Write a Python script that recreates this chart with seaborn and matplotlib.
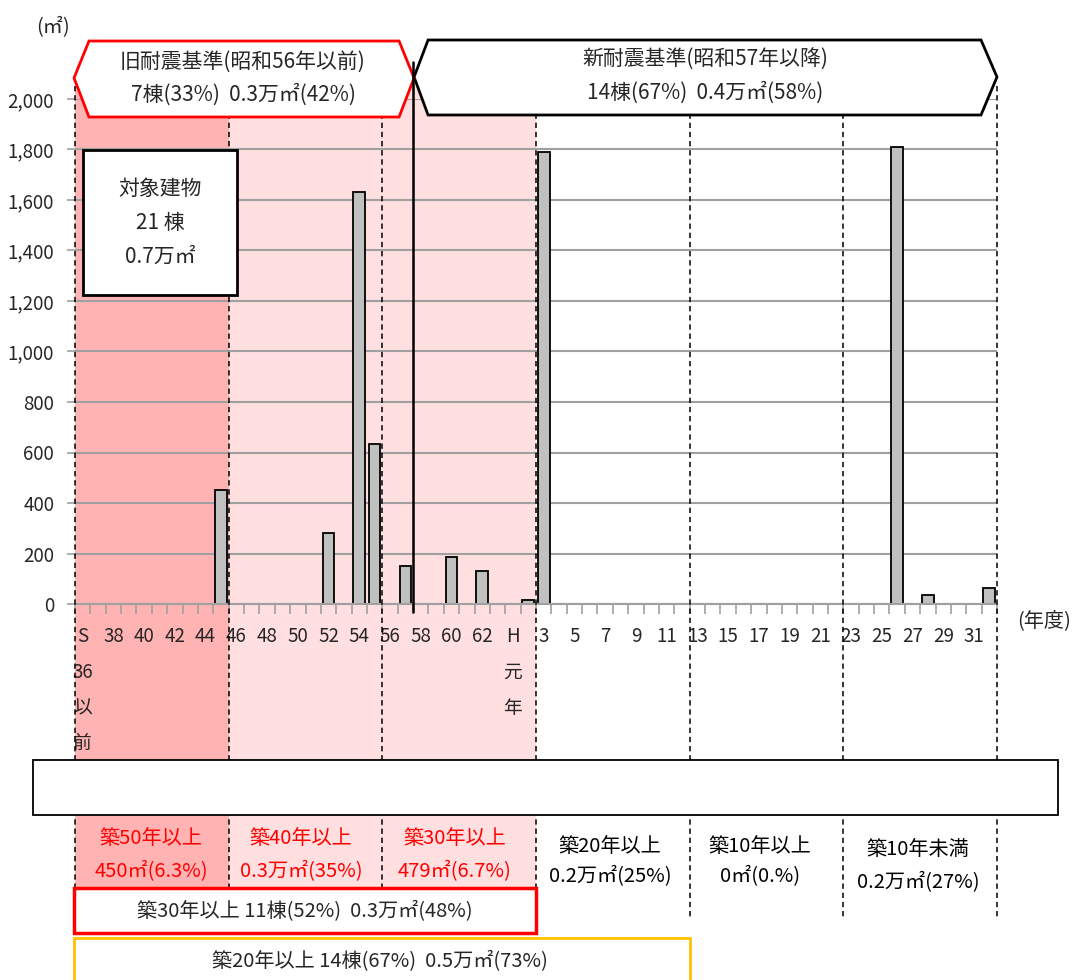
import numpy as np
import pandas as pd
import matplotlib
matplotlib.use("Agg")
import matplotlib.pyplot as plt
import seaborn as sns
from matplotlib.patches import Polygon, Rectangle

sns.set_theme(style="white")
plt.rcParams["font.family"] = ["Noto Sans CJK JP", "DejaVu Sans"]

# 年度カテゴリ(S36以前 〜 H32)
years = [f"S{y}" for y in range(36, 64)] + [f"H{y}" for y in range(1, 33)]
tick_labels = ["S\n36\n以\n前", "38", "40", "42", "44", "46", "48", "50", "52",
               "54", "56", "58", "60", "62", "H\n元\n年", "3", "5", "7", "9",
               "11", "13", "15", "17", "19", "21", "23", "25", "27", "29", "31"]

# 延床面積(㎡)
bar_years = ["S45", "S52", "S54", "S55", "S57", "S60", "S62", "H2", "H3", "H26", "H28", "H32"]
bar_area = [450, 280, 1630, 635, 150, 185, 130, 15, 1790, 1810, 37, 65]

df = pd.DataFrame({"year": bar_years, "area": bar_area})

W, H = 1074, 980
fig = plt.figure(figsize=(W / 100, H / 100), dpi=100)

bg = fig.add_axes([0, 0, 1, 1], zorder=0)
ax = fig.add_axes([75 / W, (H - 604) / H, 922 / W, 505 / H], zorder=1)
fg = fig.add_axes([0, 0, 1, 1], zorder=2)
for a in (bg, fg):
    a.set_xlim(0, W)
    a.set_ylim(H, 0)
    a.axis("off")
    a.patch.set_alpha(0)
ax.patch.set_alpha(0)

sns.barplot(data=df, x="year", y="area", order=years, color="#C0C0C0",
            edgecolor="black", linewidth=1.3, width=0.76, saturation=1, ax=ax)

ax.set_xlim(-0.5, len(years) - 0.5)
ax.set_ylim(0, 2000)
ax.set_yticks(range(0, 2001, 200))
ax.set_yticklabels([f"{v:,}" for v in range(0, 2001, 200)])
ax.set_xticks(range(0, len(years), 2))
ax.set_xticklabels(tick_labels, linespacing=1.92, va="top")
ax.set_xticks(np.arange(-0.5, len(years), 1), minor=True)
ax.tick_params(axis="x", which="major", length=0, pad=16, labelsize=13.5)
ax.tick_params(axis="x", which="minor", bottom=True, length=7, width=1.2,
               color="#A0A0A0", direction="out")
ax.tick_params(axis="y", left=True, length=6, width=1.2, color="#A0A0A0",
               pad=9, labelsize=13.5)
ax.set_xlabel("")
ax.set_ylabel("")
for s in ("left", "right", "top"):
    ax.spines[s].set_visible(False)
ax.spines["bottom"].set_color("#A0A0A0")
ax.spines["bottom"].set_linewidth(1.5)
ax.grid(axis="y", color="#A0A0A0", linewidth=1.5)
ax.set_axisbelow(True)


def bx(i):
    # category boundary -> pixel x
    return ax.transData.transform((i - 0.5, 0))[0]


# 背景の色分け
top, low = 86, 887
bg.add_patch(Rectangle((bx(0), top), bx(10) - bx(0), low - top, fc="#FFB3B3", ec="none"))
bg.add_patch(Rectangle((bx(10), top), bx(30) - bx(10), low - top, fc="#FFDFDF", ec="none"))

# 区切りの破線
for i in (0, 10, 20, 30):
    fg.plot([bx(i), bx(i)], [top, low], color="black", lw=1.1, ls=(0, (3.5, 2.5)), zorder=1)
for i in (40, 50, 60):
    fg.plot([bx(i), bx(i)], [top, 920], color="black", lw=1.1, ls=(0, (3.5, 2.5)), zorder=1)

# 耐震基準の見出し
xj = bx(22) + 1
fg.add_patch(Polygon([(bx(0) - 1, 78), (bx(0) + 14, 41), (xj - 15, 41), (xj, 78),
                      (xj - 15, 117), (bx(0) + 14, 117)], closed=True,
                     fc="white", ec="#FF0000", lw=2, zorder=3))
fg.add_patch(Polygon([(xj, 77), (xj + 14, 40), (bx(60) - 16, 40), (bx(60), 77),
                      (bx(60) - 16, 115), (xj + 14, 115)], closed=True,
                     fc="white", ec="black", lw=2, zorder=2))
fg.plot([bx(22), bx(22)], [62, 612], color="black", lw=1.8, zorder=4)

fs = 15
fg.text(243, 62, "旧耐震基準(昭和56年以前)", fontsize=fs, ha="center", va="center", zorder=5)
fg.text(243, 95, "7棟(33%)  0.3万㎡(42%)", fontsize=fs, ha="center", va="center", zorder=5)
fg.text(705, 60, "新耐震基準(昭和57年以降)", fontsize=fs, ha="center", va="center", zorder=5)
fg.text(705, 93, "14棟(67%)  0.4万㎡(58%)", fontsize=fs, ha="center", va="center", zorder=5)

# 対象建物
fg.add_patch(Rectangle((83, 150), 154, 145, fc="white", ec="black", lw=2, zorder=3))
fg.text(160, 189, "対象建物", fontsize=fs, ha="center", va="center", zorder=5)
fg.text(160, 223, "21 棟", fontsize=fs, ha="center", va="center", zorder=5)
fg.text(160, 257, "0.7万㎡", fontsize=fs, ha="center", va="center", zorder=5)

fg.text(53, 28, "(㎡)", fontsize=14.5, ha="center", va="center")
fg.text(1044, 621, "(年度)", fontsize=14.5, ha="center", va="center")

# 下部の帯
fg.add_patch(Rectangle((33, 760), 1025, 55, fc="white", ec="black", lw=1.3, zorder=3))

red = "#FF0000"
fs2 = 14.5
cells = [(151, "築50年以上", "450㎡(6.3%)", red, 838, 872),
         (301, "築40年以上", "0.3万㎡(35%)", red, 838, 872),
         (455, "築30年以上", "479㎡(6.7%)", red, 838, 872),
         (610, "築20年以上", "0.2万㎡(25%)", "black", 846, 877),
         (760, "築10年以上", "0㎡(0.%)", "black", 846, 877),
         (918, "築10年未満", "0.2万㎡(27%)", "black", 849, 883)]
for cx, t1, t2, c, y1, y2 in cells:
    fg.text(cx, y1, t1, fontsize=fs2, color=c, ha="center", va="center", zorder=5)
    fg.text(cx, y2, t2, fontsize=fs2, color=c, ha="center", va="center", zorder=5)

fg.add_patch(Rectangle((bx(0) - 1, 888), bx(30) - bx(0) + 1, 45, fc="white",
                       ec="#FF0000", lw=2.5, zorder=3))
fg.text(305, 912, "築30年以上 11棟(52%)  0.3万㎡(48%)", fontsize=fs2,
        ha="center", va="center", zorder=5)
fg.add_patch(Rectangle((bx(0) - 1, 938), bx(40) - bx(0) + 1, 60, fc="white",
                       ec="#FFC000", lw=2, zorder=3))
fg.text(380, 962, "築20年以上 14棟(67%)  0.5万㎡(73%)", fontsize=fs2,
        ha="center", va="center", zorder=5)

fig.savefig("out.png", dpi=100)
